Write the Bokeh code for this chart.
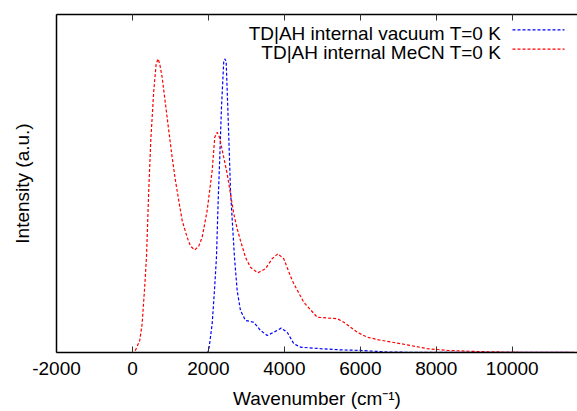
from bokeh.plotting import figure
from bokeh.models import (Range1d, LinearAxis, FixedTicker, Label, Arrow)
from bokeh.embed import file_html
from bokeh.resources import INLINE

# ---- data (wavenumber in cm^-1, intensity in a.u.) ----
vac_x = [-2000, 0, 1983, 2020, 2099, 2159, 2212, 2257, 2299, 2344, 2404, 2431, 2467, 2510,
         2554, 2581, 2633, 2686, 2757, 2844, 2976, 3194, 3371, 3547, 3721, 3916, 4074, 4248,
         4424, 4951, 5477, 6004, 6794, 12000]
vac_y = [0, 0, 0, 0.018, 0.098, 0.211, 0.324, 0.517, 0.664, 0.834, 0.991, 0.999, 0.991, 0.834,
         0.664, 0.551, 0.438, 0.324, 0.211, 0.143, 0.109, 0.103, 0.075, 0.058, 0.069, 0.083,
         0.069, 0.030, 0.018, 0.013, 0.009, 0.007, 0.001, 0]

mecn_x = [-2000, 53, 192, 255, 316, 369, 429, 482, 561, 624, 677, 720, 782, 869, 956, 1045,
          1132, 1219, 1309, 1440, 1528, 1641, 1746, 1835, 1967, 2099, 2167, 2230, 2291, 2404,
          2494, 2581, 2668, 2757, 2844, 2976, 3107, 3300, 3502, 3679, 3826, 3984, 4179, 4248,
          4511, 4864, 5390, 5566, 5917, 6180, 6486, 6971, 7321, 7760, 8287, 9164, 10033, 12000]
mecn_y = [0, 0, 0.041, 0.098, 0.211, 0.324, 0.551, 0.721, 0.891, 0.982, 0.999, 0.980, 0.936,
          0.846, 0.755, 0.664, 0.585, 0.517, 0.449, 0.392, 0.362, 0.349, 0.362, 0.392, 0.483,
          0.619, 0.732, 0.749, 0.732, 0.664, 0.608, 0.540, 0.472, 0.421, 0.381, 0.324, 0.290,
          0.271, 0.285, 0.319, 0.336, 0.319, 0.254, 0.234, 0.171, 0.120, 0.115, 0.103, 0.069,
          0.052, 0.043, 0.032, 0.024, 0.013, 0.007, 0.003, 0.001, 0]

x_ticks = [-2000, 0, 2000, 4000, 6000, 8000, 10000]
labels = ["TD|AH internal vacuum T=0 K", "TD|AH internal MeCN T=0 K"]
x_title = "Wavenumber (cm\u207b\u00b9)"
y_title = "Intensity (a.u.)"

FONT = "Liberation Sans"
FS = "19px"
BLUE = "#0000ff"
RED = "#ff0000"
DASH = "3 2"

p = figure(width=577, height=411, output_backend="svg", toolbar_location=None,
           x_range=Range1d(-2000, 11718), y_range=Range1d(0, 1.15),
           min_border_left=56, min_border_right=0, min_border_top=14, min_border_bottom=59)
p.outline_line_color = None
p.grid.visible = False
p.background_fill_color = "white"

p.line(vac_x, vac_y, line_color=BLUE, line_width=1.2, line_dash=DASH)
p.line(mecn_x, mecn_y, line_color=RED, line_width=1.2, line_dash=DASH)

# bottom axis
xa = p.xaxis[0]
xa.ticker = FixedTicker(ticks=x_ticks)
xa.major_label_overrides = {t: str(t) for t in x_ticks}
xa.major_tick_in = 6
xa.major_tick_out = 0
xa.minor_tick_line_color = None
xa.axis_line_width = 1.5
xa.axis_line_color = "black"
xa.major_tick_line_color = "#333333"
xa.major_label_text_font = FONT
xa.major_label_text_font_size = FS
xa.major_label_text_color = "black"
xa.major_label_standoff = 9
xa.axis_label = x_title
xa.axis_label_text_font = FONT
xa.axis_label_text_font_size = FS
xa.axis_label_text_font_style = "normal"
xa.axis_label_text_color = "black"
xa.axis_label_standoff = 10

# left axis: frame line and title only
ya = p.yaxis[0]
ya.ticker = FixedTicker(ticks=[])
ya.major_tick_in = 0
ya.major_tick_out = 0
ya.minor_tick_line_color = None
ya.major_label_standoff = 0
ya.axis_line_width = 1.5
ya.axis_line_color = "black"
ya.axis_label = y_title
ya.axis_label_text_font = FONT
ya.axis_label_text_font_size = FS
ya.axis_label_text_font_style = "normal"
ya.axis_label_text_color = "black"
ya.axis_label_standoff = 24

# top axis (mirror ticks, no labels)
ta = LinearAxis(ticker=FixedTicker(ticks=x_ticks))
ta.major_label_overrides = {t: "" for t in x_ticks}
ta.major_tick_in = 6
ta.major_tick_out = 0
ta.minor_tick_line_color = None
ta.axis_line_width = 1.5
ta.axis_line_color = "black"
ta.major_tick_line_color = "#333333"
ta.major_label_standoff = 0
p.add_layout(ta, "above")

# key (gnuplot style: right-aligned text, sample line on its right)
for i, (t, c) in enumerate(zip(labels, [BLUE, RED])):
    p.add_layout(Label(x=444.7, y=319.5 - 19.5 * i, x_units="screen", y_units="screen",
                       text=t, text_font=FONT, text_font_size=FS, text_align="right",
                       text_baseline="middle", text_color="black"))
    ys = 322.7 - 19.4 * i
    p.add_layout(Arrow(end=None, start=None, x_start=456, y_start=ys, x_end=508, y_end=ys,
                       start_units="screen", end_units="screen",
                       line_color=c, line_width=1.2, line_dash=DASH))

open("out.html", "w").write(file_html(p, INLINE))
